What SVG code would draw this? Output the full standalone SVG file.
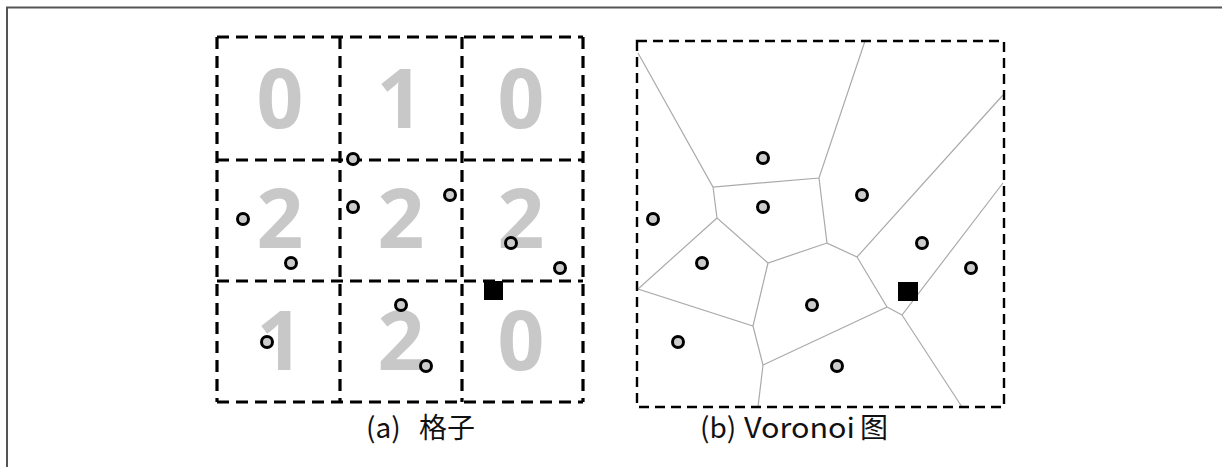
<svg xmlns="http://www.w3.org/2000/svg" width="1222" height="467" viewBox="0 0 1222 467">
<style>
.grid{fill:none;stroke:#000;stroke-width:3.2;stroke-dasharray:12 7}
.vbox{fill:none;stroke:#000;stroke-width:2.4;stroke-dasharray:10 6}
.edge{fill:none;stroke:#aaa;stroke-width:1.2}
.num{font-family:"Open Sans","Liberation Sans",sans-serif;font-weight:700;font-size:82px;fill:#c8c8c8;text-anchor:middle}
.pt{fill:#ccc;stroke:#000;stroke-width:3}
.cap{font-family:"Noto Sans CJK SC","Noto Sans",sans-serif;font-size:28px;fill:#111}
</style>
<defs>
<circle id="p" r="5.5" class="pt"/>
</defs>
<rect width="1222" height="467" fill="#fff"/>
<path d="M7,467 V7.5 H1222" fill="none" stroke="#555" stroke-width="2"/>

<g id="grid-a">
  <g id="grid-lines">
    <path class="grid" d="M217,37 H583 M217,160 H583 M217,281 H583 M217,402 H583 M217,37 V402 M340,37 V402 M462,37 V402 M583,37 V402"/>
  </g>
  <g id="grid-counts">
    <text class="num" x="280" y="128">0</text>
    <text class="num" x="400" y="128">1</text>
    <text class="num" x="521" y="128">0</text>
    <text class="num" x="280" y="248">2</text>
    <text class="num" x="401" y="248">2</text>
    <text class="num" x="521" y="248">2</text>
    <text class="num" x="280" y="370">1</text>
    <text class="num" x="401" y="370">2</text>
    <text class="num" x="521" y="370">0</text>
  </g>
  <g id="grid-points">
    <use href="#p" x="353" y="159"/>
    <use href="#p" x="450" y="195"/>
    <use href="#p" x="353" y="207"/>
    <use href="#p" x="243" y="219"/>
    <use href="#p" x="291" y="263"/>
    <use href="#p" x="511" y="243"/>
    <use href="#p" x="560" y="268"/>
    <use href="#p" x="401" y="305"/>
    <use href="#p" x="267" y="342"/>
    <use href="#p" x="426" y="366"/>
  </g>
  <rect id="grid-query" x="484" y="281" width="19" height="19" fill="#000"/>
  <text id="caption-a" class="cap" y="438"><tspan x="366">(a)</tspan><tspan x="419">格子</tspan></text>
</g>

<g id="voronoi-b">
  <g id="voronoi-edges">
    <path class="edge" d="M638,53 L713,187 L819,178 L865,41 M819,178 L827,243 L857,257 L1003,95 M713,187 L717,218 L768,263 L827,243 M717,218 L638,289 L753,326 L768,263 M753,326 L763,365 L758,407 M763,365 L887,307 L857,257 M887,307 L902,315 L1003,183 M902,315 L962,407"/>
  </g>
  <rect class="vbox" x="637" y="41" width="367" height="366"/>
  <g id="voronoi-points">
    <use href="#p" x="763" y="158"/>
    <use href="#p" x="763" y="207"/>
    <use href="#p" x="862" y="195"/>
    <use href="#p" x="653" y="219"/>
    <use href="#p" x="702" y="263"/>
    <use href="#p" x="922" y="243"/>
    <use href="#p" x="971" y="268"/>
    <use href="#p" x="812" y="305"/>
    <use href="#p" x="678" y="342"/>
    <use href="#p" x="837" y="366"/>
  </g>
  <rect id="voronoi-query" x="898" y="282" width="20" height="19" fill="#000"/>
  <text id="caption-b" class="cap" y="438"><tspan x="700">(b)</tspan><tspan x="744" textLength="111" lengthAdjust="spacingAndGlyphs">Voronoi</tspan><tspan x="860">图</tspan></text>
</g>
</svg>
